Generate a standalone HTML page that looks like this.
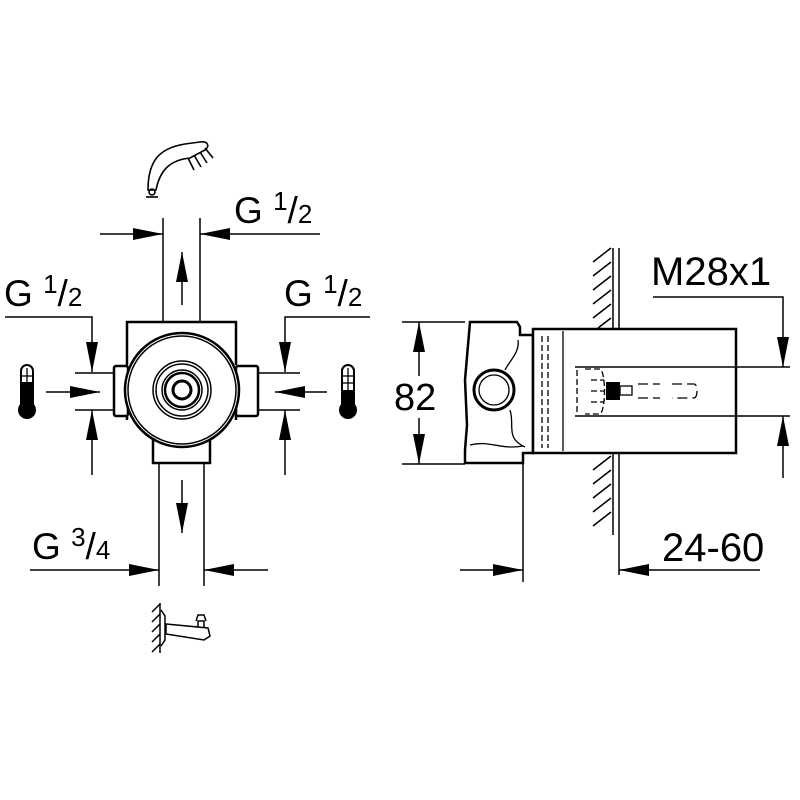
<!DOCTYPE html>
<html><head><meta charset="utf-8"><style>html,body{margin:0;padding:0;background:#fff}svg{display:block}</style></head>
<body>
<svg width="800" height="800" viewBox="0 0 800 800" xmlns="http://www.w3.org/2000/svg" font-family="Liberation Sans, sans-serif" fill="none" stroke="#000">
<defs>
<marker id="a" viewBox="0 0 30 12" refX="30" refY="6" markerWidth="30" markerHeight="12" markerUnits="userSpaceOnUse" orient="auto"><path d="M0 0 L30 6 L0 12 Z" fill="#000" stroke="none"/></marker>
</defs>
<g stroke-width="1.5">
<line x1="163" y1="218" x2="163" y2="322"/><line x1="200" y1="218" x2="200" y2="322"/>
<line x1="182" y1="305" x2="182" y2="252" marker-end="url(#a)"/>
<line x1="100" y1="234" x2="163" y2="234" marker-end="url(#a)"/>
<line x1="320" y1="234" x2="200" y2="234" marker-end="url(#a)"/>
<polyline points="5,317 92,317 92,372" marker-end="url(#a)"/>
<line x1="92" y1="475" x2="92" y2="410" marker-end="url(#a)"/>
<line x1="75" y1="373" x2="115" y2="373"/><line x1="75" y1="410" x2="115" y2="410"/>
<line x1="46" y1="392" x2="100" y2="392" marker-end="url(#a)"/>
<polyline points="370,317 285,317 285,372" marker-end="url(#a)"/>
<line x1="285" y1="475" x2="285" y2="410" marker-end="url(#a)"/>
<line x1="258" y1="373" x2="300" y2="373"/><line x1="258" y1="410" x2="300" y2="410"/>
<line x1="327" y1="392" x2="275" y2="392" marker-end="url(#a)"/>
<line x1="159" y1="463" x2="159" y2="586"/><line x1="204" y1="463" x2="204" y2="586"/>
<line x1="182" y1="480" x2="182" y2="533" marker-end="url(#a)"/>
<line x1="30" y1="570" x2="159" y2="570" marker-end="url(#a)"/>
<line x1="268" y1="570" x2="204" y2="570" marker-end="url(#a)"/>
</g>
<g stroke-width="2.5" fill="#fff">
<path d="M127 365 V322 H236 V365 M236 415 V420 M127 415 V420"/>
<rect x="114" y="366" width="14" height="50" rx="2"/>
<rect x="236" y="366" width="22" height="50" rx="2"/>
<path d="M153 440 V463 H210 V440"/>
<circle cx="182" cy="390" r="57"/>
</g>
<g stroke-width="1.5">
<circle cx="182" cy="390" r="54"/>
<circle cx="182" cy="390" r="29"/><circle cx="182" cy="390" r="26"/>
<circle cx="182" cy="390" r="20"/><circle cx="182" cy="390" r="17" stroke-width="2.5"/>
<circle cx="182" cy="390" r="9" stroke-width="3"/>
</g>
<g>
<path d="M21 411 V371 A6 6 0 0 1 33 371 V411" stroke-width="2" fill="#fff"/>
<rect x="21" y="382" width="12" height="30" fill="#000" stroke="none"/>
<circle cx="27" cy="410" r="9" fill="#000" stroke="none"/>
<line x1="27" y1="368" x2="27" y2="382" stroke-width="1.3"/><line x1="22" y1="376" x2="32" y2="376" stroke-width="1.3"/>
<path d="M342 411 V371 A6 6 0 0 1 354 371 V411" stroke-width="2" fill="#fff"/>
<rect x="342" y="390" width="12" height="22" fill="#000" stroke="none"/>
<circle cx="348" cy="410" r="9" fill="#000" stroke="none"/>
<line x1="348" y1="368" x2="348" y2="390" stroke-width="1.3"/><line x1="343" y1="376" x2="353" y2="376" stroke-width="1.3"/><line x1="343" y1="383" x2="353" y2="383" stroke-width="1.3"/>
</g>
<g stroke-width="1.6">
<path d="M148 190 C148 160 160 148 185 144 L200 142 C208 141 210 146 205 150 L190 158 C170 160 160 170 156 190 Z" fill="#fff"/>
<line x1="188" y1="158" x2="194" y2="170"/><line x1="194" y1="155" x2="201" y2="167"/><line x1="200" y1="152" x2="207" y2="163"/><line x1="205" y1="148" x2="213" y2="158"/>
<circle cx="152" cy="192" r="3"/><line x1="146" y1="197" x2="158" y2="197"/>
</g>
<g stroke-width="1.5">
<line x1="160" y1="603" x2="160" y2="653"/>
<line x1="152" y1="612" x2="160" y2="604"/><line x1="152" y1="622" x2="160" y2="614"/><line x1="152" y1="632" x2="160" y2="624"/><line x1="152" y1="642" x2="160" y2="634"/><line x1="152" y1="652" x2="160" y2="644"/>
<path d="M161 610 L165 616 V640 L161 646"/>
<path d="M166 624 L208 628 L210 636 L204 640 L166 634 Z"/>
<path d="M198 627 V621 H204 V628 M196 621 L198 615 H204 L206 621"/>
</g>
<g stroke-width="1.5">
<line x1="402" y1="322" x2="465" y2="322"/><line x1="402" y1="464" x2="465" y2="464"/>
<line x1="419" y1="376" x2="419" y2="322" marker-end="url(#a)"/>
<line x1="419" y1="418" x2="419" y2="464" marker-end="url(#a)"/>
<line x1="613" y1="248" x2="613" y2="329"/><line x1="619" y1="248" x2="619" y2="329"/>
<line x1="613" y1="454" x2="613" y2="535"/><line x1="619" y1="454" x2="619" y2="575"/>
<path d="M593 262 L611 248 M593 276 L611 262 M593 290 L611 276 M593 304 L611 290 M593 318 L611 304 M598 328 L611 318
M593 470 L611 456 M593 484 L611 470 M593 498 L611 484 M593 512 L611 498 M593 526 L611 512"/>
<line x1="523" y1="463" x2="523" y2="582"/>
<line x1="460" y1="570" x2="523" y2="570" marker-end="url(#a)"/>
<line x1="760" y1="570" x2="619" y2="570" marker-end="url(#a)"/>
<polyline points="653,297 783,297 783,367" marker-end="url(#a)"/>
<line x1="783" y1="478" x2="783" y2="416" marker-end="url(#a)"/>
</g>
<g stroke-width="2.5" fill="#fff">
<path d="M470 322 H517 L520 327 V335 H533 V453 H523 V463 H465 V450 L467 425 L465 380 Z"/>
<rect x="533" y="329" width="203" height="124"/>
</g>
<g stroke-width="1.5">
<line x1="575" y1="367" x2="790" y2="367"/><line x1="575" y1="416" x2="790" y2="416"/>
</g>
<g stroke-width="1.3">
<line x1="563" y1="331" x2="563" y2="451"/>
<line x1="542" y1="336" x2="542" y2="448" stroke-dasharray="6 3"/>
<line x1="548" y1="336" x2="548" y2="448" stroke-dasharray="6 3"/>
<path d="M518 340 C520 352 510 360 505 370 M510 410 C515 425 505 438 525 447 M470 445 C490 440 500 450 523 446"/>
<circle cx="494" cy="390" r="20" stroke-width="3"/><circle cx="494" cy="390" r="15"/>
<path d="M577 370 V413 M585 369 H600 C606 372 606 410 600 414 H585 M591 380 H604 M591 391 H604 M591 402 H604" stroke-dasharray="6 3"/>
<rect x="606" y="382" width="14" height="18" fill="#000" stroke="none"/>
<rect x="620" y="386" width="12" height="9" fill="#fff"/>
<path d="M638 384 H660 M638 398 H660 M672 384 H694 C698 384 698 398 694 398 H672" stroke-dasharray="10 5"/>
</g>
<g fill="#000" stroke="none" font-size="37">
<text x="234" y="223">G <tspan font-size="26" dy="-13">1</tspan><tspan dy="13">/</tspan><tspan font-size="26">2</tspan></text>
<text x="4" y="306">G <tspan font-size="26" dy="-13">1</tspan><tspan dy="13">/</tspan><tspan font-size="26">2</tspan></text>
<text x="284" y="306">G <tspan font-size="26" dy="-13">1</tspan><tspan dy="13">/</tspan><tspan font-size="26">2</tspan></text>
<text x="32" y="559">G <tspan font-size="26" dy="-13">3</tspan><tspan dy="13">/</tspan><tspan font-size="26">4</tspan></text>
<text x="394" y="410" font-size="38">82</text>
<text x="651" y="285" font-size="40">M28x1</text>
<text x="662" y="561" font-size="40">24-60</text>
</g>
</svg>
</body></html>
